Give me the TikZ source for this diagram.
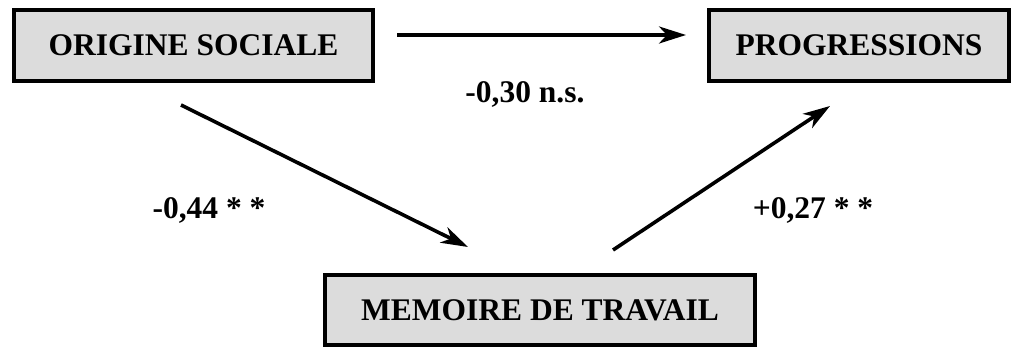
\documentclass[tikz,border=0pt]{standalone}
\usepackage{fontspec}
\setmainfont{Liberation Serif}
\usetikzlibrary{arrows.meta}
\begin{document}
\begin{tikzpicture}[x=1pt,y=-1pt,
  varbox/.style={draw=black,line width=4pt,fill={rgb,255:red,220;green,220;blue,220},
    inner sep=0pt,font=\fontsize{31.5}{36}\selectfont\bfseries},
  pathlabel/.style={inner sep=0pt,font=\fontsize{31.5}{36}\selectfont\bfseries},
  effect/.style={line width=3.6pt,-{Stealth[length=27pt,width=17pt,inset=8pt]}}]
\useasboundingbox (0,0) rectangle (1013,347);
\node[varbox,minimum width=359pt,minimum height=71pt] (orig) at (193.5,45.5) {ORIGINE SOCIALE};
\node[varbox,minimum width=300pt,minimum height=71pt] (prog) at (859,45.5) {PROGRESSIONS};
\node[varbox,minimum width=430pt,minimum height=70pt] (mem) at (540,310) {MEMOIRE DE TRAVAIL};
\coordinate (a1s) at (397,35);
\coordinate (a1e) at (686,35);
\coordinate (a2s) at (181,105);
\coordinate (a2e) at (468,247);
\coordinate (a3s) at (613,250);
\coordinate (a3e) at (830,106);
\draw[effect] (a1s) -- (a1e);
\draw[effect] (a2s) -- (a2e);
\draw[effect] (a3s) -- (a3e);
\node[pathlabel] (l1) at (525,94) {-0,30 n.s.};
\node[pathlabel] (l2) at (209,210) {-0,44 * *};
\node[pathlabel] (l3) at (813,210) {+0,27 * *};
\end{tikzpicture}
\end{document}
